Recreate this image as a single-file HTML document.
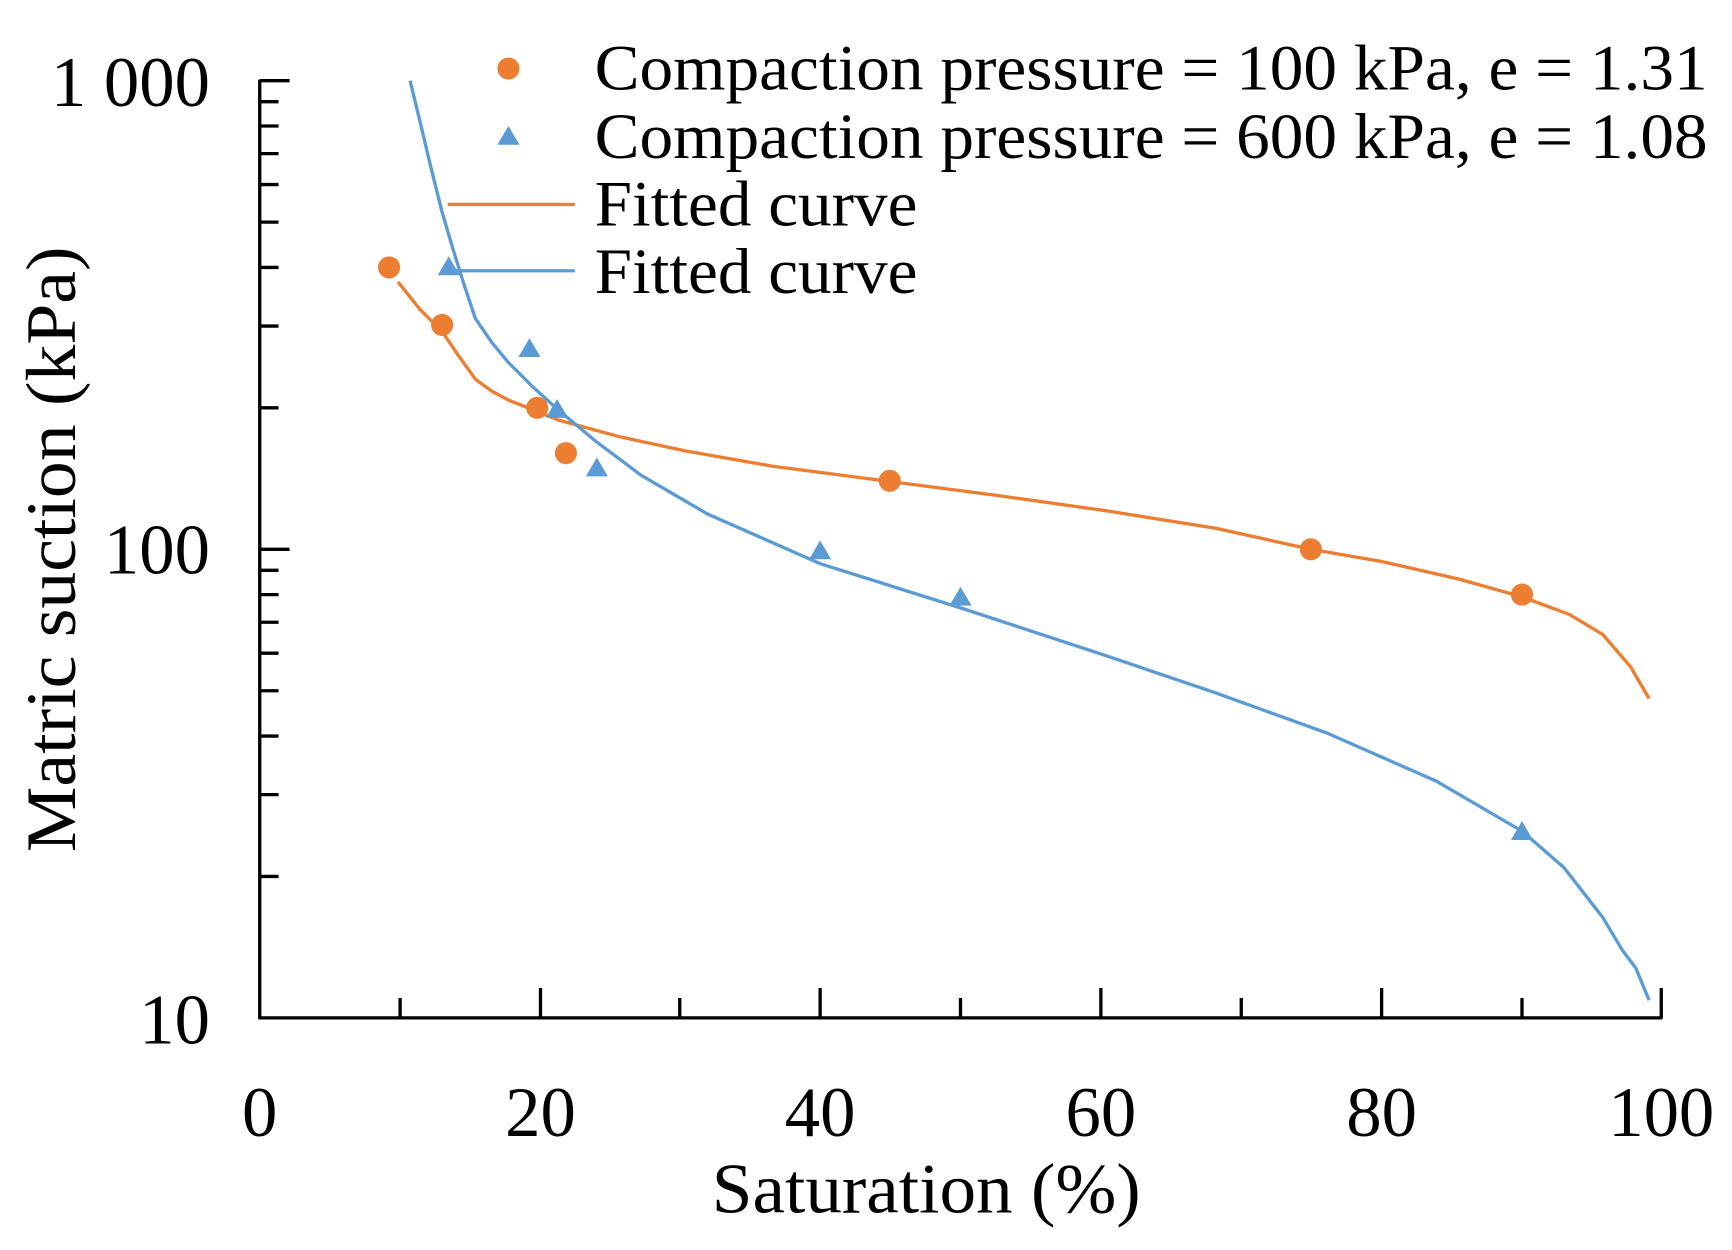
<!DOCTYPE html>
<html><head><meta charset="utf-8"><style>html,body{margin:0;padding:0;background:#fff}svg{display:block}</style></head><body>
<svg width="1732" height="1250" viewBox="0 0 1567 1131" preserveAspectRatio="none" xmlns="http://www.w3.org/2000/svg" font-family="Liberation Serif, serif">
<rect width="1567" height="1131" fill="#fff"/>
<g stroke="#000" stroke-width="3">
<line x1="235" y1="72" x2="235" y2="922"/>
<line x1="234" y1="921" x2="1504" y2="921"/>
<line x1="235" y1="73" x2="262" y2="73"/>
<line x1="235" y1="497" x2="262" y2="497"/>
<line x1="235" y1="92" x2="252" y2="92"/>
<line x1="235" y1="114" x2="252" y2="114"/>
<line x1="235" y1="139" x2="252" y2="139"/>
<line x1="235" y1="167" x2="252" y2="167"/>
<line x1="235" y1="201" x2="252" y2="201"/>
<line x1="235" y1="242" x2="252" y2="242"/>
<line x1="235" y1="295" x2="252" y2="295"/>
<line x1="235" y1="369" x2="252" y2="369"/>
<line x1="235" y1="516" x2="252" y2="516"/>
<line x1="235" y1="538" x2="252" y2="538"/>
<line x1="235" y1="563" x2="252" y2="563"/>
<line x1="235" y1="591" x2="252" y2="591"/>
<line x1="235" y1="625" x2="252" y2="625"/>
<line x1="235" y1="666" x2="252" y2="666"/>
<line x1="235" y1="719" x2="252" y2="719"/>
<line x1="235" y1="793" x2="252" y2="793"/>
<line x1="362" y1="921" x2="362" y2="903"/>
<line x1="489" y1="921" x2="489" y2="894"/>
<line x1="615" y1="921" x2="615" y2="903"/>
<line x1="742" y1="921" x2="742" y2="894"/>
<line x1="869" y1="921" x2="869" y2="903"/>
<line x1="996" y1="921" x2="996" y2="894"/>
<line x1="1123" y1="921" x2="1123" y2="903"/>
<line x1="1250" y1="921" x2="1250" y2="894"/>
<line x1="1377" y1="921" x2="1377" y2="903"/>
<line x1="1503" y1="921" x2="1503" y2="894"/>
</g>
<g font-size="64" fill="#000">
<text x="190" y="96" text-anchor="end">1 000</text>
<text x="190" y="519" text-anchor="end">100</text>
<text x="190" y="944" text-anchor="end">10</text>
<text x="235" y="1028" text-anchor="middle">0</text>
<text x="489" y="1028" text-anchor="middle">20</text>
<text x="742" y="1028" text-anchor="middle">40</text>
<text x="996" y="1028" text-anchor="middle">60</text>
<text x="1250" y="1028" text-anchor="middle">80</text>
<text x="1503" y="1028" text-anchor="middle">100</text>
<text x="838" y="1097" text-anchor="middle" textLength="388" lengthAdjust="spacingAndGlyphs">Saturation (%)</text>
<text transform="translate(68,497) rotate(-90)" text-anchor="middle" textLength="548" lengthAdjust="spacingAndGlyphs">Matric suction (kPa)</text>
</g>
<g fill="none" stroke-width="3" stroke-linejoin="round">
<path stroke="#ED7D31" d="M360,255 L380,280 L400,300 L415,322 L430,343 L445,354 L460,362 L485,372 L505,380 L560,395 L620,408 L700,422 L800,435 L900,448 L1000,462 L1100,478 L1186,497 L1250,508 L1320,524 L1377,540 L1420,556 L1450,574 L1475,603 L1492,632"/>
<path stroke="#5B9BD5" d="M371,73 L380,110 L390,152 L400,192 L410,226 L420,258 L430,288 L445,310 L460,328 L482,350 L504,370 L540,400 L580,430 L640,465 L742,510 L869,550 L1000,593 L1100,627 L1200,663 L1300,707 L1377,752 L1415,785 L1450,830 L1468,860 L1480,876 L1492,905"/>
</g>
<g fill="#ED7D31">
<circle cx="352" cy="242" r="10"/><circle cx="400" cy="294" r="10"/><circle cx="486" cy="369" r="10"/><circle cx="512" cy="410" r="10"/><circle cx="805" cy="435" r="10"/><circle cx="1186" cy="497" r="10"/><circle cx="1377" cy="538" r="10"/>
<circle cx="460" cy="62" r="10"/>
</g>
<g fill="#5B9BD5">
<path d="M406,232 l10,17 h-20z"/><path d="M479,306 l10,17 h-20z"/><path d="M504,361 l10,17 h-20z"/><path d="M540,414 l10,17 h-20z"/><path d="M742,489 l10,17 h-20z"/><path d="M869,531 l10,17 h-20z"/><path d="M1377,743 l10,17 h-20z"/>
<path d="M460,114 l10,17 h-20z"/>
</g>
<line x1="405" y1="185" x2="520" y2="185" stroke="#ED7D31" stroke-width="3"/>
<line x1="405" y1="245" x2="520" y2="245" stroke="#5B9BD5" stroke-width="3"/>
<g font-size="58" fill="#000">
<text x="538" y="81" textLength="1007" lengthAdjust="spacingAndGlyphs">Compaction pressure = 100 kPa, e = 1.31</text>
<text x="538" y="143" textLength="1007" lengthAdjust="spacingAndGlyphs">Compaction pressure = 600 kPa, e = 1.08</text>
<text x="538" y="204" textLength="292" lengthAdjust="spacingAndGlyphs">Fitted curve</text>
<text x="538" y="265" textLength="292" lengthAdjust="spacingAndGlyphs">Fitted curve</text>
</g>
</svg>
</body></html>
